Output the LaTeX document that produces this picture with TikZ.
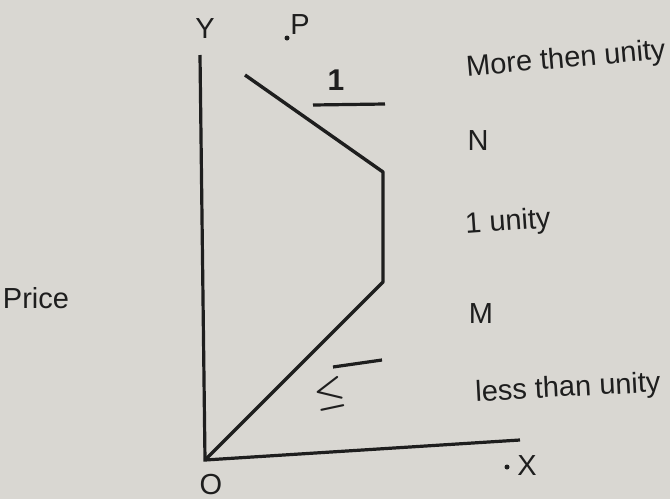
\documentclass[tikz,border=0pt]{standalone}
\usepackage{fontspec}
\setmainfont{Liberation Sans}
\usepackage{tikz}
\usetikzlibrary{positioning,calc}
\definecolor{paper}{HTML}{D9D7D2}
\definecolor{ink}{HTML}{1E1E1E}

\begin{document}
\begin{tikzpicture}[x=0.5pt, y=-0.5pt,
  lbl/.style={text=ink, font=\fontsize{14.5}{16}\selectfont, inner sep=1pt},
  axis/.style={draw=ink, line width=1.6pt},
  curve/.style={draw=ink, line width=1.7pt, line join=round},
  tick/.style={draw=ink, line width=1.6pt}]
  \fill[paper] (0,0) rectangle (670,499);
  \useasboundingbox (0,0) rectangle (670,499);
  % axes
  \coordinate (O) at (205,460);
  \coordinate (ytop) at (200,55);
  \coordinate (xend) at (520,440);
  \draw[axis] (ytop) -- (O) -- (xend);
  \node[lbl] (ylab) at (205,29) {Y};
  \node[lbl] (olab) at (211,485) {O};
  \node[lbl] (xlab) at (527,466) {X};
  \fill[ink] (507,467) circle (2.5);
  \node[lbl] (plab) at (300,25) {P};
  \fill[ink] (287,38) circle (2.5);
  % demand curve
  \coordinate (p) at (245,75);
  \coordinate (n) at (383,172);
  \coordinate (m) at (383,282);
  \draw[curve] (p) -- (n) -- (m) -- (O);
  % marks on the segments
  \node[lbl, font=\bfseries\fontsize{15}{16}\selectfont] (one) at (336,80) {1};
  \coordinate (ua) at (313,105);
  \coordinate (ub) at (385,104);
  \draw[tick] (ua) -- (ub);
  \coordinate (la) at (333,367);
  \coordinate (lb) at (382,360);
  \draw[tick] (la) -- (lb);
  \node[lbl, rotate=12, font=\boldmath\fontsize{19}{20}\selectfont] (leq) at (330,394) {$\leq$};
  % labels on the right
  \node[lbl, rotate=5] (more) at (566,60) {More then unity};
  \node[lbl] (nlab) at (478,141) {N};
  \node[lbl, rotate=4] (unit) at (508,223) {1 unity};
  \node[lbl] (mlab) at (481,314) {M};
  \node[lbl, rotate=3] (less) at (568,389) {less than unity};
  \node[lbl] (price) at (36,298) {Price};
\end{tikzpicture}
\end{document}
